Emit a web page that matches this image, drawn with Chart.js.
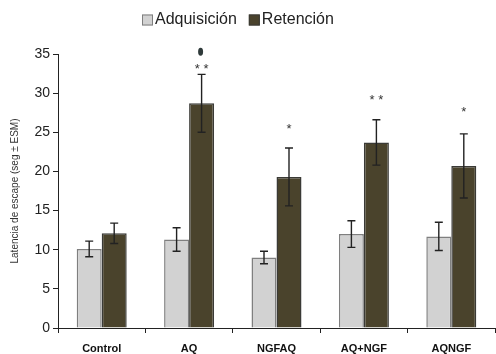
<!DOCTYPE html>
<html>
<head>
<meta charset="utf-8">
<script src="https://cdn.jsdelivr.net/npm/chart.js@4/dist/chart.umd.min.js"></script>
<style>
  html, body { margin: 0; padding: 0; background: #fff; }
  #wrap { width: 496px; height: 354px; position: relative; }
</style>
</head>
<body>
<div id="wrap"><canvas id="c"></canvas></div>
<script>
// Groups and series values (mean latency, seconds) with their standard errors
const categories = ['Control', 'AQ', 'NGFAQ', 'AQ+NGF', 'AQNGF'];
const seriesNames = ['Adquisición', 'Retención'];
const adquisicion = [10.1, 11.3, 9.0, 12.0, 11.7];
const adquisicionErr = [1.0, 1.5, 0.8, 1.7, 1.8];
const retencion = [12.1, 28.7, 19.3, 23.7, 20.7];
const retencionErr = [1.3, 3.7, 3.7, 2.9, 4.1];
// Significance marks over the retention bars and the value where each sits
const signifMarks = ['', '* *', '*', '* *', '*'];
const signifAt = [null, 33.4, 25.8, 29.5, 27.9];
const yTicks = [0, 5, 10, 15, 20, 25, 30, 35];

const errors = [adquisicionErr, retencionErr];

// Error bars, significance asterisks and the legend
const extras = {
  id: 'extras',
  afterDatasetsDraw(chart) {
    const ctx = chart.ctx;
    const y = chart.scales.y;
    ctx.save();
    chart.data.datasets.forEach((ds, di) => {
      const meta = chart.getDatasetMeta(di);
      meta.data.forEach((bar, i) => {
        const v = ds.data[i], e = errors[di][i];
        const yHi = y.getPixelForValue(v + e), yLo = y.getPixelForValue(v - e);
        ctx.strokeStyle = '#222';
        ctx.lineWidth = 1.4;
        ctx.beginPath();
        ctx.moveTo(bar.x, yHi); ctx.lineTo(bar.x, yLo);
        ctx.moveTo(bar.x - 4, yHi); ctx.lineTo(bar.x + 4, yHi);
        ctx.moveTo(bar.x - 4, yLo); ctx.lineTo(bar.x + 4, yLo);
        ctx.stroke();
      });
    });
    // asterisks over the retention bars
    const rMeta = chart.getDatasetMeta(1);
    ctx.fillStyle = '#333';
    ctx.font = '13px "Liberation Sans", Arial, sans-serif';
    ctx.textAlign = 'center';
    ctx.textBaseline = 'middle';
    signifMarks.forEach((m, i) => {
      if (!m) return;
      ctx.fillText(m, rMeta.data[i].x, y.getPixelForValue(signifAt[i]) + 3);
    });
    // small dot above the AQ marks
    ctx.fillStyle = '#2f3a3a';
    ctx.beginPath();
    ctx.ellipse(rMeta.data[1].x - 1, y.getPixelForValue(35.3), 2.5, 4, 0, 0, Math.PI * 2);
    ctx.fill();

    // legend
    ctx.font = '16px "Liberation Sans", Arial, sans-serif';
    ctx.textAlign = 'left';
    ctx.textBaseline = 'middle';
    const legendY = 20;
    let x = 142;
    chart.data.datasets.forEach((ds) => {
      ctx.fillStyle = ds.backgroundColor;
      ctx.fillRect(x, legendY - 5.5, 11, 11);
      ctx.strokeStyle = ds.borderColor;
      ctx.lineWidth = 1;
      ctx.strokeRect(x + 0.5, legendY - 5, 10, 10);
      ctx.fillStyle = '#222';
      ctx.fillText(ds.label, x + 13, legendY);
      x += 13 + ctx.measureText(ds.label).width + 12;
    });
    ctx.restore();
  }
};

new Chart(document.getElementById('c'), {
  type: 'bar',
  data: {
    labels: categories,
    datasets: [
      { label: seriesNames[0], data: adquisicion, backgroundColor: '#d2d2d2', borderColor: '#7f7f7f', borderWidth: 1.5 },
      { label: seriesNames[1], data: retencion, backgroundColor: '#4a432c', borderColor: '#3a3a36', borderWidth: 1.5 }
    ]
  },
  options: {
    responsive: true,
    maintainAspectRatio: false,
    animation: false,
    devicePixelRatio: 1,
    layout: { padding: { top: 54, right: 1, left: 0, bottom: 0 } },
    datasets: { bar: { categoryPercentage: 0.572, barPercentage: 1.0 } },
    plugins: { legend: { display: false }, tooltip: { enabled: false } },
    scales: {
      x: {
        offset: true,
        grid: { display: true, offset: true, drawOnChartArea: false, drawTicks: true, tickLength: 5, color: '#222' },
        border: { display: true, color: '#222', width: 1 },
        ticks: { color: '#111', padding: 9, font: { family: '"Liberation Sans", Arial, sans-serif', size: 11, weight: 'bold' } },
        afterFit(s) { s.height = 26; }
      },
      y: {
        min: 0, max: 35,
        afterBuildTicks(s) { s.ticks = yTicks.map(v => ({ value: v })); },
        grid: { display: true, drawOnChartArea: false, drawTicks: true, tickLength: 5, color: '#222' },
        border: { display: true, color: '#222', width: 1 },
        ticks: { color: '#222', padding: 3, font: { family: '"Liberation Sans", Arial, sans-serif', size: 14 } },
        title: { display: true, text: 'Latencia de escape (seg ± ESM)', color: '#333', padding: { top: 9, bottom: 0 }, font: { family: '"Liberation Sans", Arial, sans-serif', size: 10 } },
        afterFit(s) { s.width = 58; }
      }
    }
  },
  plugins: [extras]
});
</script>
</body>
</html>
